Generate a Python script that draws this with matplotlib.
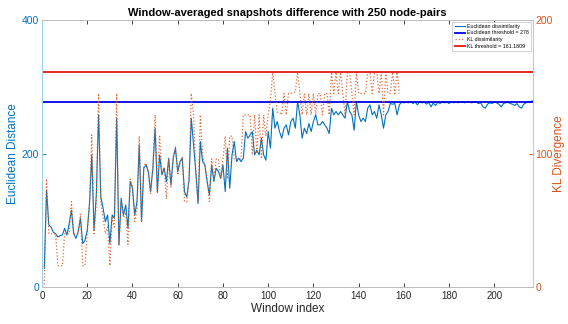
import numpy as np
import matplotlib
matplotlib.use('Agg')
import matplotlib.pyplot as plt

plt.rcParams['font.family'] = ['Liberation Sans', 'DejaVu Sans']

# window-averaged Euclidean distance, windows 1..217
euclid = [
    28, 145, 93, 90, 82, 80, 75, 77, 78, 88,
    78, 95, 115, 80, 73, 83, 103, 65, 70, 85,
    125, 198, 85, 138, 258, 135, 118, 98, 108, 65,
    108, 103, 253, 63, 133, 108, 123, 88, 158, 148,
    108, 128, 213, 98, 178, 183, 173, 143, 178, 238,
    143, 198, 168, 178, 158, 193, 153, 193, 208, 173,
    188, 193, 143, 135, 160, 253, 213, 173, 125, 218,
    188, 183, 158, 138, 183, 158, 178, 173, 163, 183,
    143, 208, 148, 198, 218, 188, 193, 188, 193, 233,
    223, 228, 233, 198, 205, 198, 223, 198, 190, 233,
    208, 268, 238, 248, 233, 223, 238, 243, 228, 248,
    253, 238, 278, 258, 223, 238, 230, 245, 233, 248,
    258, 243, 243, 248, 243, 238, 230, 268, 258, 263,
    258, 263, 258, 253, 278, 263, 258, 235, 278, 258,
    248, 253, 248, 268, 273, 258, 263, 253, 273, 258,
    238, 258, 263, 275, 274, 275, 258, 273, 277, 276,
    277, 276, 278, 275, 277, 273, 278, 276, 277, 274,
    277, 270, 276, 272, 277, 275, 278, 276, 277, 275,
    278, 276, 277, 276, 278, 277, 276, 278, 277, 276,
    278, 277, 275, 276, 270, 268, 274, 276, 275, 277,
    276, 274, 270, 275, 276, 277, 275, 274, 272, 275,
    270, 268, 274, 276, 277, 278, 279,
]

# KL divergence, only defined for windows 1..158
kl = [
    2, 81, 40, 40, 40, 40, 16, 16, 16, 40,
    40, 40, 64, 40, 40, 40, 55, 16, 16, 40,
    64, 114, 40, 64, 145, 64, 52, 40, 45, 16,
    52, 45, 145, 32, 64, 52, 56, 32, 81, 75,
    49, 58, 113, 49, 91, 93, 86, 70, 89, 129,
    70, 113, 86, 90, 66, 96, 75, 97, 105, 84,
    93, 97, 64, 64, 81, 145, 129, 86, 64, 129,
    99, 90, 81, 64, 96, 81, 96, 96, 81, 96,
    113, 81, 113, 113, 96, 96, 96, 96, 129, 129,
    129, 129, 99, 129, 100, 129, 96, 129, 113, 129,
    140, 161, 145, 131, 131, 129, 145, 129, 145, 145,
    146, 146, 161, 146, 129, 145, 129, 145, 129, 145,
    129, 145, 145, 129, 145, 145, 129, 161, 145, 161,
    145, 161, 145, 129, 161, 161, 145, 129, 161, 145,
    145, 145, 145, 161, 161, 145, 161, 161, 145, 161,
    129, 161, 145, 145, 161, 145, 161, 145,
]

euclid_threshold = 278
kl_threshold = 161.1809

x_ticks = [0, 20, 40, 60, 80, 100, 120, 140, 160, 180, 200]

c_euc = (0.0, 0.447, 0.741)
c_kl = (0.85, 0.325, 0.098)

win_e = np.arange(1, len(euclid) + 1)
win_k = np.arange(1, len(kl) + 1)

fig = plt.figure(figsize=(5.68, 3.24), dpi=100)
ax = fig.add_axes([0.074, 0.114, 0.864, 0.824])
ax2 = ax.twinx()

l1, = ax.plot(win_e, euclid, color=c_euc, lw=0.8, label='Euclidean dissimilarity')
l2 = ax.axhline(euclid_threshold, color=(0, 0, 0.9), lw=1.3,
                label='Euclidean threshold = %d' % euclid_threshold)
l3, = ax2.plot(win_k, kl, color=c_kl, lw=0.9, ls=':', alpha=0.85,
               label='KL dissimilarity')
l4 = ax2.axhline(kl_threshold, color=(0.9, 0.08, 0.08), lw=1.3,
                 label='KL threshold = %.4f' % kl_threshold)

ax.set_xlim(0, 217)
ax.set_ylim(0, 400)
ax2.set_ylim(0, 200)
ax.set_xticks(x_ticks)
ax.set_yticks([0, 200, 400])
ax2.set_yticks([0, 100, 200])

ax.tick_params(axis='x', direction='in', top=True, length=3, width=0.6,
               labelsize=7, colors='#262626', pad=3)
ax.tick_params(axis='y', direction='in', length=3, width=0.6,
               labelsize=7.5, colors=c_euc, pad=2)
ax2.tick_params(axis='y', direction='in', length=3, width=0.6,
                labelsize=7.5, colors=c_kl, pad=2)

for a in (ax, ax2):
    a.spines['top'].set_color('#bdbdbd')
    a.spines['bottom'].set_color('#bdbdbd')
    a.spines['left'].set_color('#9fcfe0')
    a.spines['right'].set_color('#e0c0b0')
    for s in a.spines.values():
        s.set_linewidth(0.7)

ax.set_xlabel('Window index', fontsize=8.5, color='#262626', labelpad=1)
ax.set_ylabel('Euclidean Distance', fontsize=8.5, color=c_euc, labelpad=2)
ax2.set_ylabel('KL Divergence', fontsize=8.5, color=c_kl, labelpad=0)
ax.set_title('Window-averaged snapshots difference with 250 node-pairs',
             fontsize=8, fontweight='bold', pad=3)

leg = ax2.legend(handles=[l1, l2, l3, l4], loc='upper right', fontsize=3.8,
                 handlelength=2.0, borderpad=0.4, labelspacing=0.3,
                 handletextpad=0.4, fancybox=False, framealpha=1,
                 borderaxespad=0.3)
leg.get_frame().set_edgecolor('#bdbdbd')
leg.get_frame().set_linewidth(0.5)

fig.savefig('out.png', dpi=100)
